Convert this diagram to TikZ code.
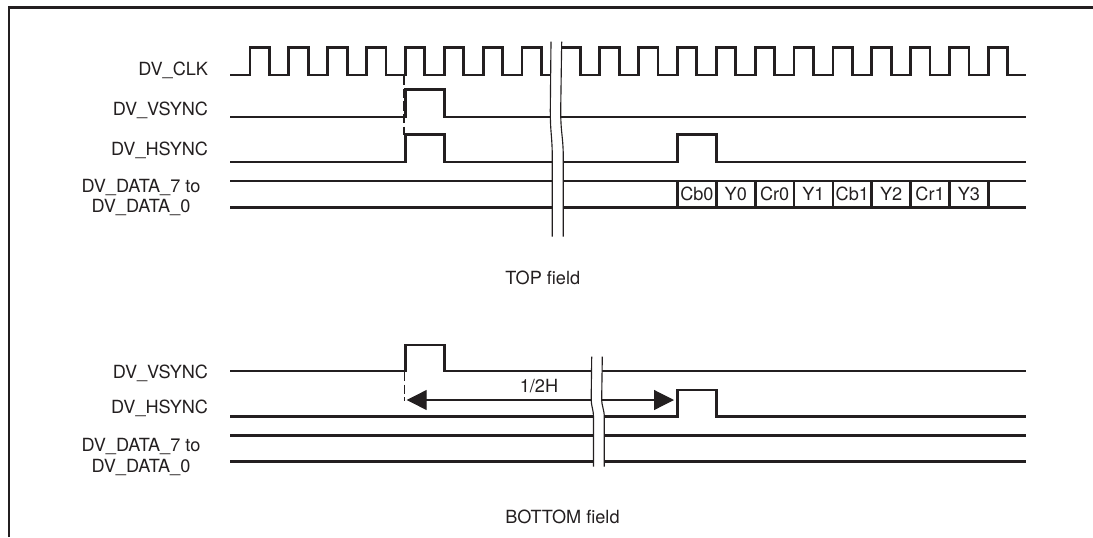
\documentclass[tikz,border=0pt]{standalone}
\usepackage{fontspec}
\setmainfont{TeX Gyre Heros}
\usetikzlibrary{arrows.meta}
\definecolor{ink}{RGB}{35,31,32}
\begin{document}
\begin{tikzpicture}[x=0.75pt,y=-0.75pt,
  sig/.style={draw=ink,line width=2.1pt,line join=miter},
  lbl/.style={text=ink,font=\fontsize{13.6}{16}\selectfont,inner sep=0pt},
  brkline/.style={draw=ink,line width=0.85pt},
  dimline/.style={draw=ink,line width=0.9pt},
  guide/.style={draw=ink,line width=0.9pt,dash pattern=on 7pt off 2.5pt},
  tri/.style={Triangle[length=15pt,width=15pt]}
]
\useasboundingbox (0,0) rectangle (1093,537);
% frame
\draw[ink,line width=2pt] (9,537) -- (9,7.3) -- (1093,7.3);

% ---------- labels ----------
\node[lbl,anchor=base east] (lclk) at (208.3,75) {DV\_CLK};
\node[lbl,anchor=base east] (lvs1) at (208.3,115) {DV\_VSYNC};
\node[lbl,anchor=base east] (lhs1) at (208.3,155) {DV\_HSYNC};
\node[lbl,anchor=base] (ld7a) at (141,192) {DV\_DATA\_7 to};
\node[lbl,anchor=base] (ld0a) at (141,212.5) {DV\_DATA\_0};
\node[lbl,anchor=base east] (lvs2) at (208.3,378.3) {DV\_VSYNC};
\node[lbl,anchor=base east] (lhs2) at (208.3,413.3) {DV\_HSYNC};
\node[lbl,anchor=base] (ld7b) at (141,451.5) {DV\_DATA\_7 to};
\node[lbl,anchor=base] (ld0b) at (141,472) {DV\_DATA\_0};
\node[lbl,anchor=base west] (top) at (505,284.3) {TOP field};
\node[lbl,anchor=base west] (bot) at (505,523.3) {BOTTOM field};

% ---------- TOP field ----------
% guide
\draw[guide] (404,76) -- (404,135);
% clock
\draw[sig] (230,75) foreach \k in {0,...,19} {
  -- ({250+38.86*\k},75) -- ({250+38.86*\k},47.5)
  -- ({269.43+38.86*\k},47.5) -- ({269.43+38.86*\k},75) } -- (1026,75);
% vsync
\draw[sig] (230,117) -- (405.44,117) -- (405.44,89.5) -- (444.3,89.5)
  -- (444.3,117) -- (1026,117);
% hsync
\draw[sig] (230,162) -- (405.44,162) -- (405.44,134.5) -- (444.3,134.5)
  -- (444.3,162) -- (677.46,162) -- (677.46,134.5) -- (716.32,134.5)
  -- (716.32,162) -- (1026,162);
% data
\draw[sig] (230,181) -- (1026,181);
\draw[sig] (230,207.5) -- (1026,207.5);
\foreach \k in {11,...,19} \draw[sig] ({250+38.86*\k},181) -- ({250+38.86*\k},207.5);
\foreach \k/\t in {11/Cb0,12/Y0,13/Cr0,14/Y1,15/Cb1,16/Y2,17/Cr1,18/Y3}
  \node[lbl,anchor=base] (d\k) at ({269.43+38.86*\k},200.5) {\t};
% break
\fill[white] (551,41.7) -- (550.3,110) .. controls (550.3,135) and (552.3,135) .. (552.3,160)
  -- (552.3,236.7) -- (563.3,236.7) -- (563.3,160)
  .. controls (563.3,135) and (560.7,135) .. (560.7,110) -- (561.7,41.7) -- cycle;
\draw[brkline] (551,41.7) -- (550.3,110) .. controls (550.3,135) and (552.3,135) .. (552.3,160) -- (552.3,236.7);
\draw[brkline] (561.7,41.7) -- (560.7,110) .. controls (560.7,135) and (563.3,135) .. (563.3,160) -- (563.3,236.7);

% ---------- BOTTOM field ----------
\coordinate (arrL) at (406.7,400);
\coordinate (arrR) at (674,400);
\draw[guide] (404.3,372) -- (404.3,401);
\draw[dimline,{Triangle[length=15pt,width=15pt]}-{Triangle[length=15pt,width=15pt]}] (arrL) -- (arrR);
\node[lbl,anchor=base] (half) at (539,392.7) {1/2H};
\draw[sig] (230,371) -- (405.44,371) -- (405.44,345) -- (444.3,345)
  -- (444.3,371) -- (1026,371);
\draw[sig] (230,416.5) -- (677.46,416.5) -- (677.46,390) -- (716.32,390)
  -- (716.32,416.5) -- (1026,416.5);
\draw[sig] (230,435.5) -- (1026,435.5);
\draw[sig] (230,461.7) -- (1026,461.7);
% break
\fill[white] (591.7,356.7) -- (591.2,398) .. controls (591.2,408) and (593.5,408) .. (593.5,418)
  -- (593.5,466.7) -- (604.3,466.7) -- (604.3,418)
  .. controls (604.3,408) and (601.7,408) .. (601.7,398) -- (602.3,356.7) -- cycle;
\draw[brkline] (591.7,356.7) -- (591.2,398) .. controls (591.2,408) and (593.5,408) .. (593.5,418) -- (593.5,466.7);
\draw[brkline] (602.3,356.7) -- (601.7,398) .. controls (601.7,408) and (604.3,408) .. (604.3,418) -- (604.3,466.7);
\end{tikzpicture}
\end{document}
